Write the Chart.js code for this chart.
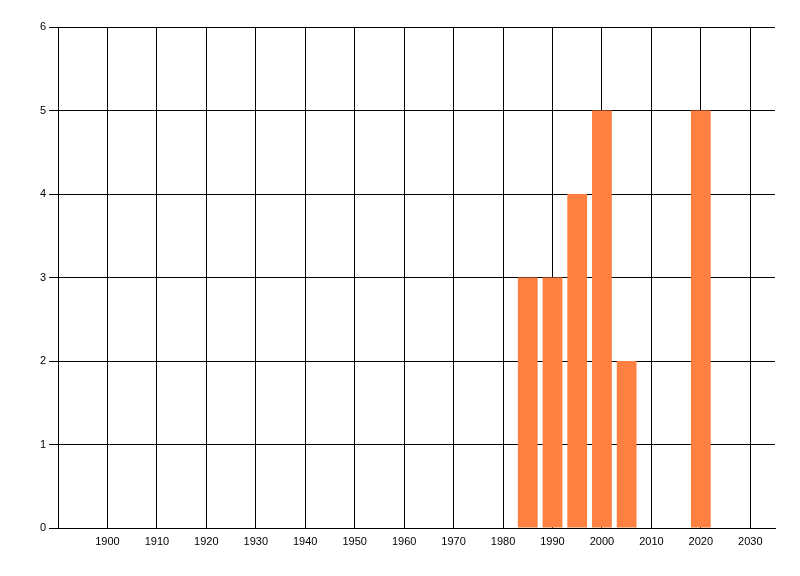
<!DOCTYPE html>
<html>
<head>
<meta charset="utf-8">
<script src="https://cdn.jsdelivr.net/npm/chart.js@4/dist/chart.umd.min.js"></script>
<style>
html,body{margin:0;padding:0;background:#fff;}
#wrap{position:relative;width:800px;height:576px;}
</style>
</head>
<body>
<div id="wrap"><canvas id="c" width="800" height="576"></canvas></div>
<script>
const years = [1985, 1990, 1995, 2000, 2005, 2020];
const counts = [3, 3, 4, 5, 2, 5];
const xTickValues = [1900, 1910, 1920, 1930, 1940, 1950, 1960, 1970, 1980, 1990, 2000, 2010, 2020, 2030];

const points = years.map((y, i) => ({x: y, y: counts[i]}));

Chart.defaults.font.family = '"Liberation Sans", Arial, sans-serif';
Chart.defaults.font.size = 11;
Chart.defaults.color = '#000';

new Chart(document.getElementById('c'), {
  type: 'bar',
  data: {
    datasets: [{
      data: points,
      backgroundColor: 'rgb(255,128,64)',
      borderWidth: 0,
      barPercentage: 0.8,
      categoryPercentage: 1.0
    }]
  },
  options: {
    responsive: false,
    animation: false,
    events: [],
    layout: {padding: {top: 27, right: 25, left: 0, bottom: 0}},
    plugins: {legend: {display: false}, tooltip: {enabled: false}},
    scales: {
      x: {
        type: 'linear',
        min: 1890,
        max: 2035,
        offset: false,
        afterBuildTicks: (scale) => {
          scale.ticks = xTickValues.map(v => ({value: v}));
        },
        afterFit: (scale) => { scale.height = 48; },
        ticks: {
          autoSkip: false,
          maxRotation: 0,
          padding: 7,
          color: '#000',
          callback: (v) => String(v)
        },
        grid: {
          color: (ctx) => (ctx.tick && xTickValues.includes(ctx.tick.value)) ? '#000' : 'rgba(0,0,0,0)',
          lineWidth: 1, drawTicks: false, offset: false
        },
        border: {color: '#000', width: 1}
      },
      y: {
        min: 0,
        max: 6,
        afterFit: (scale) => { scale.width = 58; },
        ticks: {stepSize: 1, padding: 3, color: '#000'},
        grid: {color: '#000', lineWidth: 1, tickLength: 9, drawTicks: true, offset: false},
        border: {color: '#000', width: 1}
      }
    }
  }
});
</script>
</body>
</html>
